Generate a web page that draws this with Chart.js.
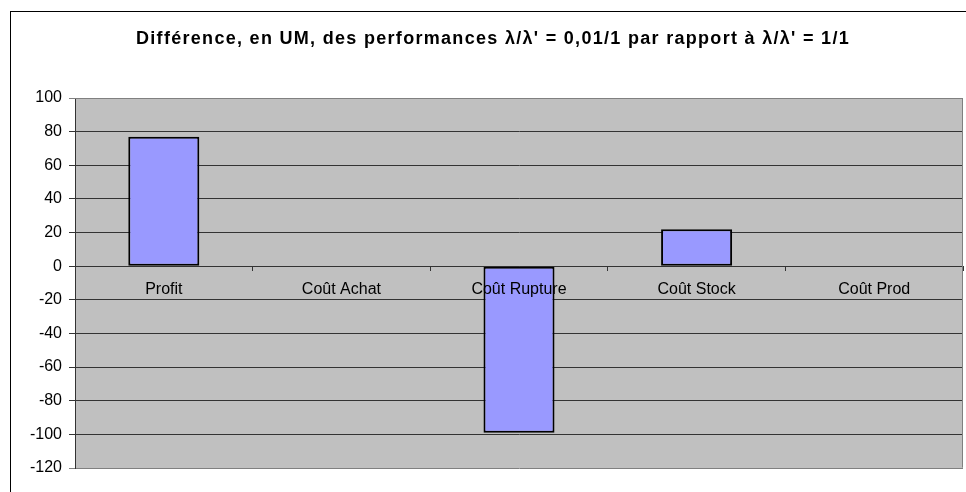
<!DOCTYPE html>
<html>
<head>
<meta charset="utf-8">
<script src="https://cdn.jsdelivr.net/npm/chart.js@4/dist/chart.umd.min.js"></script>
<style>
    body { margin: 0; background: #fff; }
    canvas { display: block; }
</style>
</head>
<body>
<canvas id="myChart" width="966" height="492"></canvas>
<script>
    const categories = ['Profit', 'Coût Achat', 'Coût Rupture', 'Coût Stock', 'Coût Prod'];
    const differences = [77, 0, -99, 22, 0];
    const yTicks = [100, 80, 60, 40, 20, 0, -20, -40, -60, -80, -100, -120];

    const titleText = "Différence, en UM, des performances λ/λ' = 0,01/1 par rapport à λ/λ' = 1/1";

    // gray plot background, outer frame, plot border and the wide-spaced bold title
    const excelFrame = {
        id: 'excelFrame',
        beforeDraw(chart) {
            const ctx = chart.ctx;
            const a = chart.chartArea;
            ctx.save();
            ctx.fillStyle = '#fff';
            ctx.fillRect(0, 0, chart.width, chart.height);
            ctx.fillStyle = '#c0c0c0';
            ctx.fillRect(a.left, a.top, a.right - a.left, a.bottom - a.top);
            ctx.strokeStyle = '#000';
            ctx.lineWidth = 1;
            ctx.strokeRect(10.5, 11.5, chart.width + 20, chart.height + 20);

            ctx.fillStyle = '#000';
            ctx.font = 'bold 18px "Liberation Sans", Arial, sans-serif';
            ctx.letterSpacing = '1.3px';
            ctx.textAlign = 'center';
            ctx.textBaseline = 'alphabetic';
            ctx.fillText(titleText, 493, 44);
            ctx.restore();
        },
        afterDatasetsDraw(chart) {
            const ctx = chart.ctx;
            const a = chart.chartArea;
            ctx.save();
            ctx.strokeStyle = '#808080';
            ctx.lineWidth = 1;
            ctx.beginPath();
            ctx.moveTo(a.left, Math.round(a.top) + 0.5);
            ctx.lineTo(Math.round(a.right) - 0.5, Math.round(a.top) + 0.5);
            ctx.lineTo(Math.round(a.right) - 0.5, Math.round(a.bottom) - 0.5);
            ctx.stroke();
            ctx.restore();
        }
    };

    const data = {
        labels: categories,
        datasets: [{
            label: 'Différence',
            data: differences,
            backgroundColor: '#9999ff',
            borderColor: '#000',
            borderWidth: 2,
            borderSkipped: false,
            barPercentage: 0.4,
            categoryPercentage: 1
        }]
    };

    const ctx = document.getElementById('myChart').getContext('2d');
    const myChart = new Chart(ctx, {
        type: 'bar',
        data: data,
        plugins: [excelFrame],
        options: {
            responsive: false,
            animation: false,
            layout: { padding: { left: 0, right: 3, top: 98, bottom: 24 } },
            plugins: {
                legend: { display: false },
                tooltip: { enabled: false },
                title: { display: false }
            },
            scales: {
                x: {
                    position: { y: 0 },
                    grid: {
                        display: true,
                        drawOnChartArea: false,
                        drawTicks: true,
                        tickLength: 4,
                        color: '#333',
                        offset: true
                    },
                    border: { display: true, color: '#333' },
                    ticks: {
                        z: 1, // category names sit on top of the bars
                        color: '#000',
                        padding: 10,
                        maxRotation: 0,
                        font: { family: 'Liberation Sans, Arial, sans-serif', size: 16 }
                    }
                },
                y: {
                    min: -120,
                    max: 100,
                    afterFit(scale) { scale.width = 75; },
                    afterBuildTicks(scale) { scale.ticks = yTicks.map(v => ({ value: v })); },
                    grid: {
                        tickLength: 6,
                        color: (c) => (c.tick && (c.tick.value === 100 || c.tick.value === -120)) ? '#808080' : '#333'
                    },
                    border: { display: true, color: '#333' },
                    ticks: {
                        color: '#000',
                        padding: 7,
                        font: { family: 'Liberation Sans, Arial, sans-serif', size: 16 }
                    }
                }
            }
        }
    });
</script>
</body>
</html>
